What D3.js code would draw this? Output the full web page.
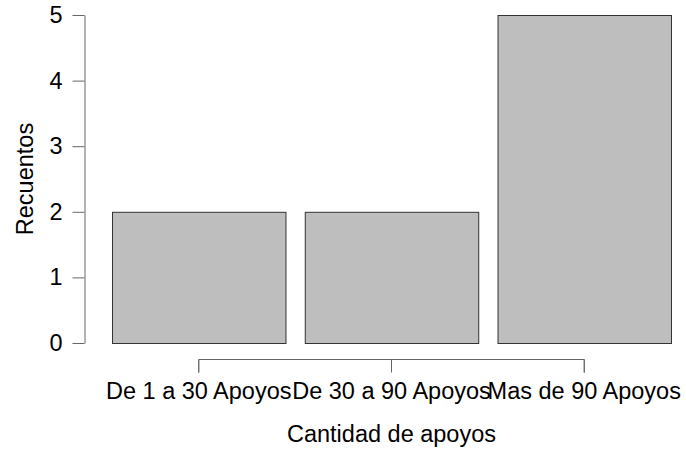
<!DOCTYPE html>
<html>
<head>
<meta charset="utf-8">
<script src="https://cdn.jsdelivr.net/npm/d3@7"></script>
<style>
  html, body { margin: 0; padding: 0; background: #fff; }
  svg { display: block; }
  text { font-family: "Liberation Sans", Arial, sans-serif; fill: #000; }
</style>
</head>
<body>
<svg id="chart" width="686" height="452"></svg>
<script>
const categories = ["De 1 a 30 Apoyos", "De 30 a 90 Apoyos", "Mas de 90 Apoyos"];
const counts = [2, 2, 5];
const yTicks = [0, 1, 2, 3, 4, 5];
const xTitle = "Cantidad de apoyos";
const yTitle = "Recuentos";

const svg = d3.select("#chart");
const fs = 23.5;

const x = d3.scaleBand().domain(categories).range([112, 671]).paddingInner(0.1).paddingOuter(0);
const y = d3.scaleLinear().domain([0, 5]).range([343, 15]);

// bars
svg.append("g").selectAll("rect").data(categories).join("rect")
  .attr("x", d => x(d) + 0.5)
  .attr("y", (d, i) => y(counts[i]) + 0.5)
  .attr("width", x.bandwidth())
  .attr("height", (d, i) => y(0) - y(counts[i]))
  .attr("fill", "#bebebe")
  .attr("stroke", "#333")
  .attr("stroke-width", 1);

// y axis
const yAxis = d3.axisLeft(y).tickValues(yTicks).tickSize(12).tickPadding(10).tickSizeOuter(0).tickFormat(d3.format("d"));
const gy = svg.append("g").attr("transform", "translate(84.5,0)").call(yAxis);
gy.select(".domain").attr("stroke", "#666");
gy.selectAll(".tick line").attr("stroke", "#666");
gy.selectAll(".tick text").attr("font-size", fs).attr("font-family", "Liberation Sans, Arial, sans-serif").attr("fill", "#000");

// x axis
const xAxis = d3.axisBottom(x).tickSize(13).tickPadding(10).tickSizeOuter(0);
const gx = svg.append("g").attr("transform", "translate(0,359.5)").call(xAxis);
gx.select(".domain").attr("stroke", "#666")
  .attr("d", `M${x(categories[0]) + x.bandwidth()/2},13V0H${x(categories[2]) + x.bandwidth()/2}V13`);
gx.selectAll(".tick line").attr("stroke", "#666");
gx.selectAll(".tick text").attr("font-size", fs).attr("font-family", "Liberation Sans, Arial, sans-serif").attr("fill", "#000");

// titles
svg.append("text").attr("x", 391.5).attr("y", 442).attr("text-anchor", "middle").attr("font-size", fs).text(xTitle);
svg.append("text").attr("transform", "translate(33,179) rotate(-90)").attr("text-anchor", "middle").attr("font-size", fs).text(yTitle);
</script>
</body>
</html>
